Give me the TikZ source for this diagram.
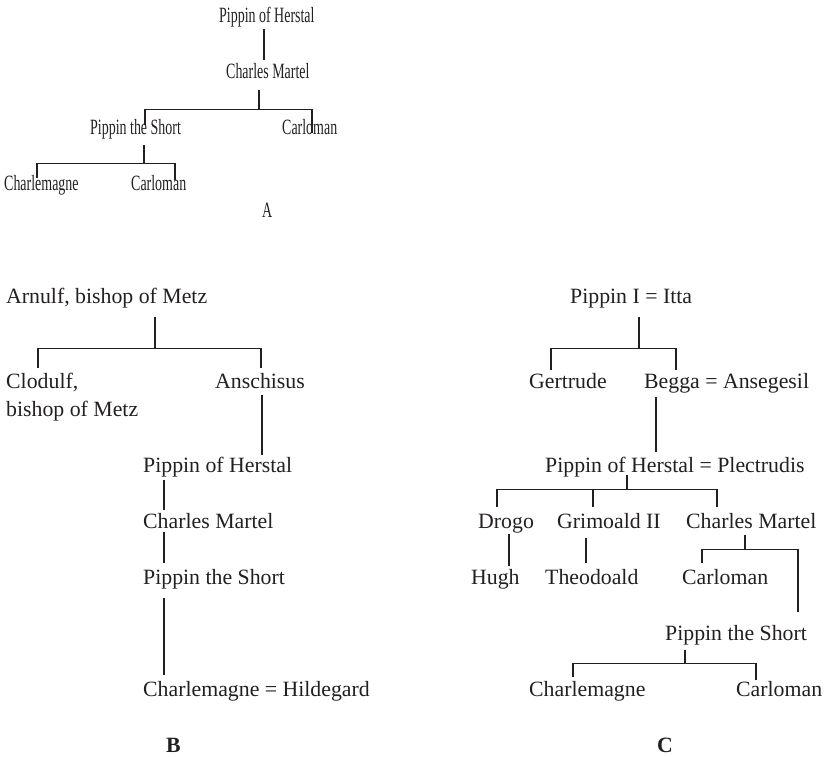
\documentclass[tikz,border=0pt]{standalone}
\usepackage{fontspec}
\setmainfont{Liberation Serif}
\usepackage{graphicx}
\usepackage{xcolor}
\usepackage{tikz}
\usetikzlibrary{positioning, calc}
\definecolor{inkcolor}{RGB}{35, 31, 32}
\newcommand{\narrowtext}[1]{\scalebox{0.64}[1]{#1}}
\tikzset{
  person/.style={anchor=base west, inner sep=0pt, text height=18pt, text depth=6pt, text=inkcolor, font=\fontsize{21.8}{28}\selectfont},
  treelabel/.style={person, font=\fontsize{21.8}{28}\selectfont\bfseries},
  link/.style={draw=inkcolor, line width=1.3pt}
}

\begin{document}
\begin{tikzpicture}[x=1pt, y=-1pt]
        \useasboundingbox (0,0) rectangle (828,757);

        % Tree A
        \node[person] (a1) at (219, 23) {\narrowtext{Pippin of Herstal}};
        \node[person] (a2) at (226, 79) {\narrowtext{Charles Martel}};
        \node[person] (a3) at (90, 135) {\narrowtext{Pippin the Short}};
        \node[person] (a4) at (282, 135) {\narrowtext{Carloman}};
        \node[person] (a5) at (4, 191) {\narrowtext{Charlemagne}};
        \node[person] (a6) at (131, 191) {\narrowtext{Carloman}};
        \node[person] (la) at (262, 218) {\narrowtext{A}};

        \draw[link] ([shift={(45,0)}]a1.south west) -- ([shift={(38,-1)}]a2.north west);
        \draw[link] ([shift={(33,5)}]a2.south west) -- ++(0,19) coordinate (ja1);
        \draw[link] ([shift={(55,8)}]a3.north west) |- (ja1) -| ([shift={(30,16)}]a4.north west);
        \draw[link] ([shift={(54,4)}]a3.south west) -- ++(0,18) coordinate (ja2);
        \draw[link] ([shift={(33,5)}]a5.north west) |- (ja2) -| ([shift={(44,7)}]a6.north west);

        % Tree B
        \node[person] (b1) at (6, 303) {Arnulf, bishop of Metz};
        \node[person] (b2) at (6, 388) {Clodulf,};
        \node[person] (b2b) at (6, 416) {bishop of Metz};
        \node[person] (b3) at (215, 388) {Anschisus};
        \node[person] (b4) at (143, 472) {Pippin of Herstal};
        \node[person] (b5) at (143, 528) {Charles Martel};
        \node[person] (b6) at (143, 584) {Pippin the Short};
        \node[person] (b7) at (143, 696) {Charlemagne = Hildegard};
        \node[treelabel] (lb) at (166, 752) {B};

        \draw[link] ([shift={(149,8)}]b1.south west) -- ++(0,31) coordinate (jb1);
        \draw[link] ([shift={(32,-2)}]b2.north west) |- (jb1) -| ([shift={(46,-2)}]b3.north west);
        \draw[link] ([shift={(47,1)}]b3.south west) -- ([shift={(119,1)}]b4.north west);
        \draw[link] ([shift={(21,2)}]b4.south west) -- ([shift={(21,0)}]b5.north west);
        \draw[link] ([shift={(21,-2)}]b5.south west) -- ([shift={(21,-3)}]b6.north west);
        \draw[link] ([shift={(21,8)}]b6.south west) -- ([shift={(21,-3)}]b7.north west);

        % Tree C
        \node[person] (c1) at (570, 303) {Pippin I = Itta};
        \node[person] (c2) at (529, 388) {Gertrude};
        \node[person] (c3) at (644, 388) {Begga = Ansegesil};
        \node[person] (c4) at (545, 472) {Pippin of Herstal = Plectrudis};
        \node[person] (c5) at (478, 528) {Drogo};
        \node[person] (c6) at (557, 528) {Grimoald II};
        \node[person] (c7) at (686, 528) {Charles Martel};
        \node[person] (c8) at (471, 584) {Hugh};
        \node[person] (c9) at (545, 584) {Theodoald};
        \node[person] (c10) at (682, 584) {Carloman};
        \node[person] (c11) at (665, 640) {Pippin the Short};
        \node[person] (c12) at (529, 696) {Charlemagne};
        \node[person] (c13) at (736, 696) {Carloman};
        \node[treelabel] (lc) at (657, 752) {C};

        \draw[link] ([shift={(69,8)}]c1.south west) -- ++(0,31) coordinate (jc1);
        \draw[link] ([shift={(22,0)}]c2.north west) |- (jc1) -| ([shift={(32,0)}]c3.north west);
        \draw[link] ([shift={(12,3)}]c3.south west) -- ([shift={(111,-2)}]c4.north west);
        \draw[link] ([shift={(82,-3)}]c4.south west) -- ++(0,14) coordinate (jc2);
        \draw[link] ([shift={(19,-3)}]c5.north west) |- (jc2) -| ([shift={(31,-3)}]c7.north west);
        \draw[link] ([shift={(36,-3)}]c6.north west) |- (jc2);
        \draw[link] ([shift={(31,0)}]c5.south west) -- ([shift={(38,0)}]c8.north west);
        \draw[link] ([shift={(29,4)}]c6.south west) -- ([shift={(41,-3)}]c9.north west);
        \draw[link] ([shift={(59,1)}]c7.south west) -- ++(0,14) coordinate (jc3);
        \draw[link] ([shift={(20,-3)}]c10.north west) |- (jc3) -| ([shift={(133,-10)}]c11.north west);
        \draw[link] ([shift={(20,4)}]c11.south west) -- ++(0,13) coordinate (jc4);
        \draw[link] ([shift={(44,-1)}]c12.north west) |- (jc4) -| ([shift={(20,2)}]c13.north west);
\end{tikzpicture}
\end{document}
